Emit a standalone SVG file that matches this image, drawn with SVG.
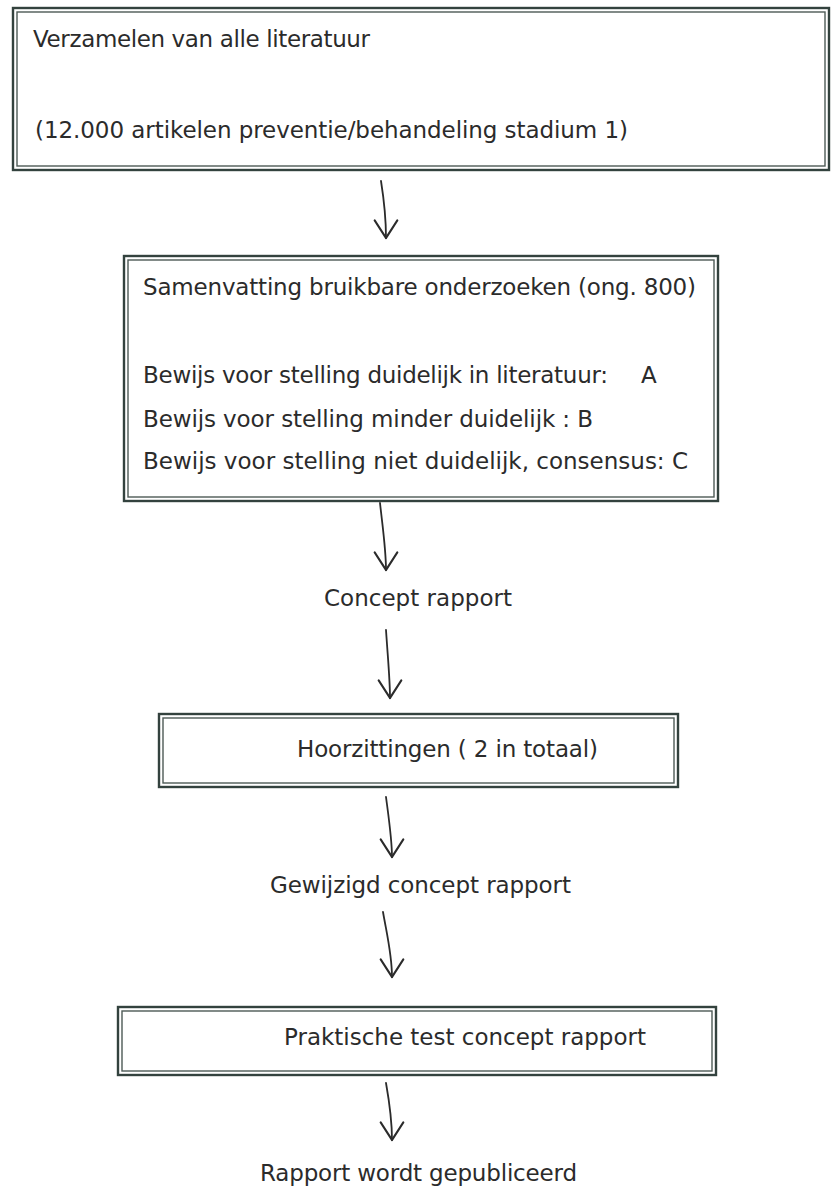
<svg xmlns="http://www.w3.org/2000/svg" width="835" height="1186" viewBox="0 0 835 1186">
<style>
.bg{fill:#ffffff}
.outer{fill:none;stroke:#33423e;stroke-width:2.4}
.inner{fill:none;stroke:#4d5a56;stroke-width:1.4}
.t{font-family:"DejaVu Sans","Liberation Sans",sans-serif;font-size:23px;fill:#2b2b2b}
.conn{fill:none;stroke:#2b2b2b;stroke-width:1.8;stroke-linecap:round}
</style>
<defs>
<marker id="vh" markerUnits="userSpaceOnUse" markerWidth="30" markerHeight="30" viewBox="-16 -12 20 24" refX="0" refY="0" orient="auto">
<path d="M-14,-9 L0,0 L-14,9" fill="none" stroke="#2b2b2b" stroke-width="1.8" stroke-linecap="round" stroke-linejoin="round"/>
</marker>
</defs>
<rect class="bg" x="0" y="0" width="835" height="1186"/>

<g id="node-verzamelen">
<rect class="outer" x="13" y="8" width="816" height="162"/>
<rect class="inner" x="17" y="12" width="808" height="154"/>
<text class="t" x="33" y="47" textLength="337">Verzamelen van alle literatuur</text>
<text class="t" x="35" y="138" textLength="593">(12.000 artikelen preventie/behandeling stadium 1)</text>
</g>

<g id="node-samenvatting">
<rect class="outer" x="124" y="256" width="594" height="245"/>
<rect class="inner" x="128" y="260" width="586" height="237"/>
<text class="t" x="143" y="295" textLength="553">Samenvatting bruikbare onderzoeken (ong. 800)</text>
<text class="t" x="143" y="383"><tspan textLength="472">Bewijs voor stelling duidelijk in literatuur: </tspan><tspan x="641">A</tspan></text>
<text class="t" x="143" y="427" textLength="450">Bewijs voor stelling minder duidelijk : B</text>
<text class="t" x="143" y="469" textLength="545">Bewijs voor stelling niet duidelijk, consensus: C</text>
</g>

<g id="node-concept">
<text class="t" x="324" y="606" textLength="188">Concept rapport</text>
</g>

<g id="node-hoorzittingen">
<rect class="outer" x="159" y="714" width="519" height="73"/>
<rect class="inner" x="163" y="718" width="511" height="65"/>
<text class="t" x="297" y="757" textLength="301">Hoorzittingen ( 2 in totaal)</text>
</g>

<g id="node-gewijzigd">
<text class="t" x="270" y="893" textLength="301">Gewijzigd concept rapport</text>
</g>

<g id="node-praktische">
<rect class="outer" x="118" y="1007" width="598" height="68"/>
<rect class="inner" x="122" y="1011" width="590" height="60"/>
<text class="t" x="284" y="1045" textLength="362">Praktische test concept rapport</text>
</g>

<g id="node-rapport">
<text class="t" x="260" y="1181" textLength="317">Rapport wordt gepubliceerd</text>
</g>

<g id="connectors">
<path class="conn" marker-end="url(#vh)" d="M381,181 C384,200 386,215 386,238"/>
<path class="conn" marker-end="url(#vh)" d="M380,503 C383,530 386,550 386,570"/>
<path class="conn" marker-end="url(#vh)" d="M386,630 C388,660 390,680 390,698"/>
<path class="conn" marker-end="url(#vh)" d="M386,797 C389,820 392,840 392,857"/>
<path class="conn" marker-end="url(#vh)" d="M383,912 C387,935 392,955 392,977"/>
<path class="conn" marker-end="url(#vh)" d="M386,1083 C389,1100 392,1120 392,1140"/>
</g>
</svg>
